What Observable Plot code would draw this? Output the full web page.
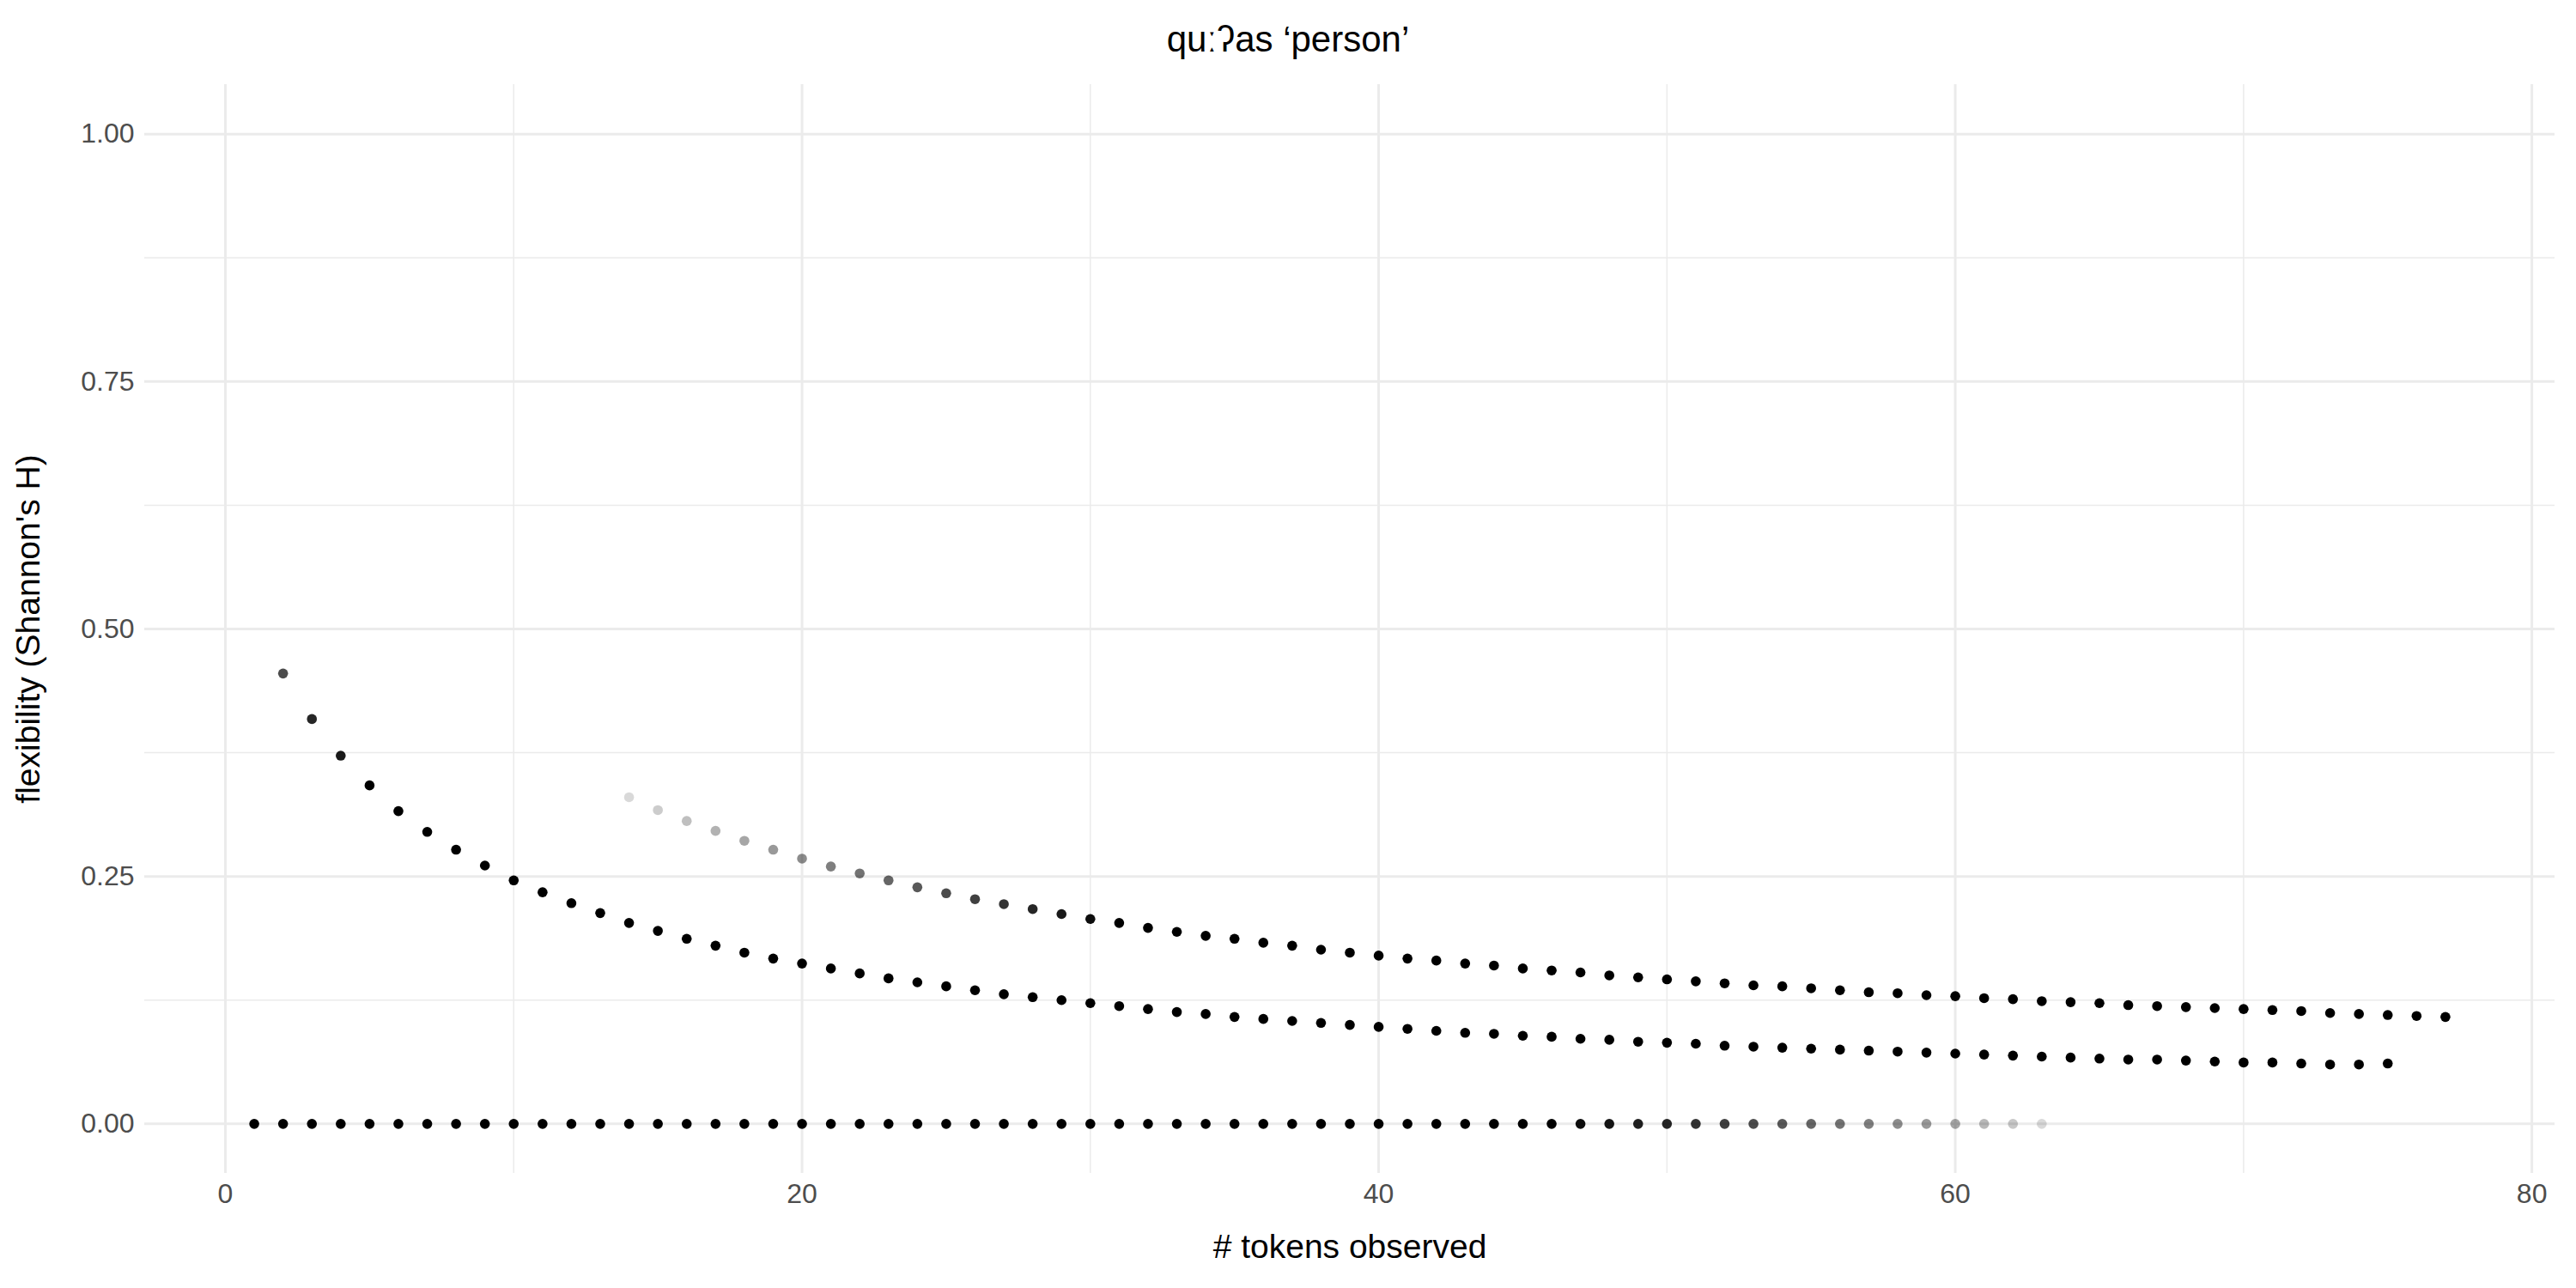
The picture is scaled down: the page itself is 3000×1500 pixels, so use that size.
<!DOCTYPE html>
<html>
<head>
<meta charset="utf-8">
<script src="https://cdn.jsdelivr.net/npm/d3@7"></script>
<script src="https://cdn.jsdelivr.net/npm/@observablehq/plot@0.6"></script>
<style>
  body { margin: 0; background: #fff; font-family: "Liberation Sans", Arial, sans-serif; }
  #title { height: 80px; line-height: 92px; text-align: center; font-size: 42px; color: #000; }
</style>
</head>
<body>
<div id="title">quːʔas ‘person’</div>
<div id="chart"></div>
<script>
// serie plana en 0
const xA = d3.range(1, 64)
const yA = xA.map(() => 0)
const aA = [1,1,1,1,1,1,1,1,1,1, 1,1,1,1,1,1,1,1,1,1, 1,1,1,1,1,1,1,1,1,1, 1,1,1,1,1,1,1,1,1,1,
  1,1,1,1,1,1,0.95,0.92,0.88,0.85, 0.8,0.75,0.7,0.65,0.6,0.55,0.5,0.45,0.4,0.35, 0.28,0.22,0.15]

// serie de abajo (2..75)
const xB = d3.range(2, 76)
const yB = [.455,.409,.372,.342,.316,.295,.277,.261,.246,.234,.223,.213,.203,.195,.187,.180,.173,.167,.162,
  .157,.152,.147,.143,.139,.135,.131,.128,.125,.122,.119,.116,.113,.111,.108,.106,.104,.102,.100,.098,
  .096,.094,.092,.091,.089,.088,.086,.085,.083,.082,.081,.079,.078,.077,.076,.075,.074,.073,.072,.071,
  .070,.069,.068,.067,.066,.065,.065,.064,.063,.062,.062,.061,.060,.060,.061]
const aB = xB.map((x, i) => [0.7, 0.85, 0.9][i] ?? 1)

// serie de arriba (14..77)
const xC = d3.range(14, 78)
const yC = [.330,.317,.306,.296,.286,.277,.268,.260,.253,.246,.239,.233,.227,.222,.217,.212,.207,.203,.198,
  .194,.190,.187,.183,.180,.176,.173,.170,.167,.165,.162,.160,.157,.155,.153,.150,.148,.146,.144,.142,
  .140,.139,.137,.135,.133,.132,.130,.129,.127,.126,.124,.123,.122,.120,.119,.118,.117,.116,.115,.114,
  .112,.111,.110,.109,.108]
const aC = [0.15,0.2,0.25,0.3,0.35,0.4,0.45,0.5,0.55,0.6,0.65,0.7,0.75,0.8,0.85,0.9,0.95].concat(xC.slice(17).map(() => 1))

const rows = []
xA.forEach((x, i) => rows.push({x, y: yA[i], a: aA[i]}))
xB.forEach((x, i) => rows.push({x, y: yB[i], a: aB[i]}))
xC.forEach((x, i) => rows.push({x, y: yC[i], a: aC[i]}))

const grid = '#ebebeb'
const chart = Plot.plot({
  width: 3000,
  height: 1420,
  marginTop: 18,
  marginBottom: 134,
  marginLeft: 168,
  marginRight: 25,
  style: {fontFamily: '"Liberation Sans", Arial, sans-serif', fontSize: '32px', color: '#4d4d4d', background: '#fff'},
  x: {domain: [-2.8, 80.8]},
  y: {domain: [-0.05, 1.05]},
  marks: [
    Plot.ruleX([10, 30, 50, 70], {stroke: grid, strokeWidth: 1.5}),
    Plot.ruleY([0.125, 0.375, 0.625, 0.875], {stroke: grid, strokeWidth: 1.5}),
    Plot.ruleX([0, 20, 40, 60, 80], {stroke: grid, strokeWidth: 3}),
    Plot.ruleY([0, 0.25, 0.5, 0.75, 1], {stroke: grid, strokeWidth: 3}),
    Plot.axisX({ticks: [0, 20, 40, 60, 80], tickSize: 0, tickPadding: 12, label: '# tokens observed',
      labelAnchor: 'center', labelArrow: 'none', labelOffset: 98, fontSize: 32}),
    Plot.axisY({ticks: [0, 0.25, 0.5, 0.75, 1], tickFormat: d3.format('.2f'), tickSize: 0, tickPadding: 12,
      label: "flexibility (Shannon's H)", labelAnchor: 'center', labelArrow: 'none', labelOffset: 150, fontSize: 32}),
    Plot.dot(rows, {x: 'x', y: 'y', r: 5.8, fill: '#000', fillOpacity: 'a', stroke: 'none'})
  ]
})
d3.select(chart).selectAll('g[aria-label="x-axis label"] text, g[aria-label="y-axis label"] text')
  .attr('fill', '#000').style('font-size', '39px')
d3.select('#chart').append(() => chart)
</script>
</body>
</html>
